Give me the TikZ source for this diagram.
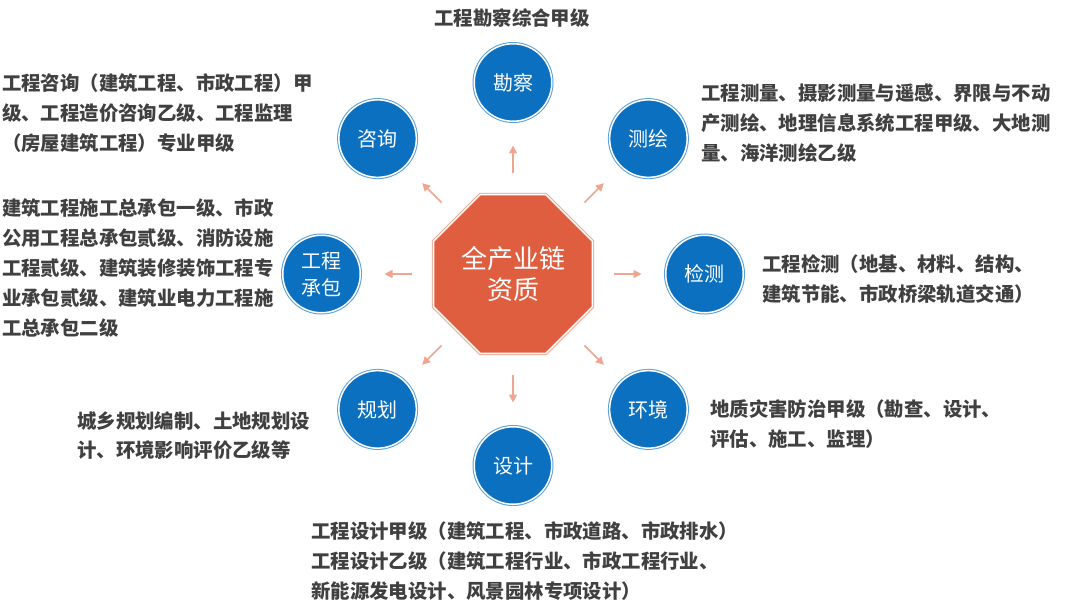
\documentclass[tikz,border=0pt]{standalone}
\usepackage{fontspec}
\usetikzlibrary{shapes.geometric,arrows.meta}
\newfontfamily\cjk{Noto Sans CJK SC}
\definecolor{octcol}{RGB}{224,94,64}
\definecolor{octring}{RGB}{242,170,150}
\definecolor{arrcol}{RGB}{240,165,145}
\definecolor{circol}{RGB}{12,112,192}
\definecolor{cirring}{RGB}{90,160,220}
\definecolor{txtcol}{RGB}{64,64,64}
\tikzset{
  hub/.style={regular polygon, regular polygon sides=8, minimum size=171.6pt,
    inner sep=0pt, outer sep=0pt, fill=octcol, draw=white, line width=1.5pt,
    preaction={draw=octring, line width=3.5pt},
    text=white, align=center, font=\cjk\fontsize{26}{30.5}\selectfont},
  field/.style={circle, minimum size=77.5pt, inner sep=0pt, outer sep=0pt,
    fill=circol, draw=white, line width=1.5pt,
    preaction={draw=cirring, line width=3.5pt},
    text=white, align=center, font=\cjk\fontsize{20}{27}\selectfont},
  arr/.style={draw=arrcol, line width=1.6pt, -{Triangle[length=8pt,width=8pt]},
    shorten <=21.75pt, shorten >=24.25pt},
  desc/.style={anchor=base west, inner sep=0pt, text=txtcol,
    font=\cjk\bfseries\fontsize{19.4}{30}\selectfont}
}
\begin{document}
\begin{tikzpicture}[x=1pt,y=-1pt]
\useasboundingbox (0,0) rectangle (1080,607);
\fill[white] (0,0) rectangle (1080,607);

\node[hub] (hub) at (513,274) {全产业链\\资质};

\node[field] (kc) at (513,82.5) {勘察};
\node[field] (ch) at (648.4,138.6) {测绘};
\node[field] (jc) at (704.5,274) {检测};
\node[field] (hj) at (648.4,409.4) {环境};
\node[field] (sj) at (513,465.5) {设计};
\node[field] (gh) at (377.6,409.4) {规划};
\node[field] (cb) at (321.5,274) {工程\\承包};
\node[field] (zx) at (377.6,138.6) {咨询};

\foreach \t in {kc,ch,jc,hj,sj,gh,cb,zx}
  \draw[arr] (hub) -- (\t);

\node[desc, anchor=base] (tkc) at (512,26) {工程勘察综合甲级};
\node[desc] (tzx) at (2,91) {\begin{tabular}[t]{@{}l@{}}工程咨询（建筑工程、市政工程）甲\\级、工程造价咨询乙级、工程监理\\（房屋建筑工程）专业甲级\end{tabular}};
\node[desc] (tch) at (701,101) {\begin{tabular}[t]{@{}l@{}}工程测量、摄影测量与遥感、界限与不动\\产测绘、地理信息系统工程甲级、大地测\\量、海洋测绘乙级\end{tabular}};
\node[desc] (tcb) at (2,215) {\begin{tabular}[t]{@{}l@{}}建筑工程施工总承包一级、市政\\公用工程总承包贰级、消防设施\\工程贰级、建筑装修装饰工程专\\业承包贰级、建筑业电力工程施\\工总承包二级\end{tabular}};
\node[desc] (tjc) at (762,271) {\begin{tabular}[t]{@{}l@{}}工程检测（地基、材料、结构、\\建筑节能、市政桥梁轨道交通）\end{tabular}};
\node[desc, font=\cjk\bfseries\fontsize{19.4}{29}\selectfont] (tgh) at (77,428) {\begin{tabular}[t]{@{}l@{}}城乡规划编制、土地规划设\\计、环境影响评价乙级等\end{tabular}};
\node[desc] (thj) at (710,416) {\begin{tabular}[t]{@{}l@{}}地质灾害防治甲级（勘查、设计、\\评估、施工、监理）\end{tabular}};
\node[desc] (tsj) at (311,538) {\begin{tabular}[t]{@{}l@{}}工程设计甲级（建筑工程、市政道路、市政排水）\\工程设计乙级（建筑工程行业、市政工程行业、\\新能源发电设计、风景园林专项设计）\end{tabular}};
\end{tikzpicture}
\end{document}
